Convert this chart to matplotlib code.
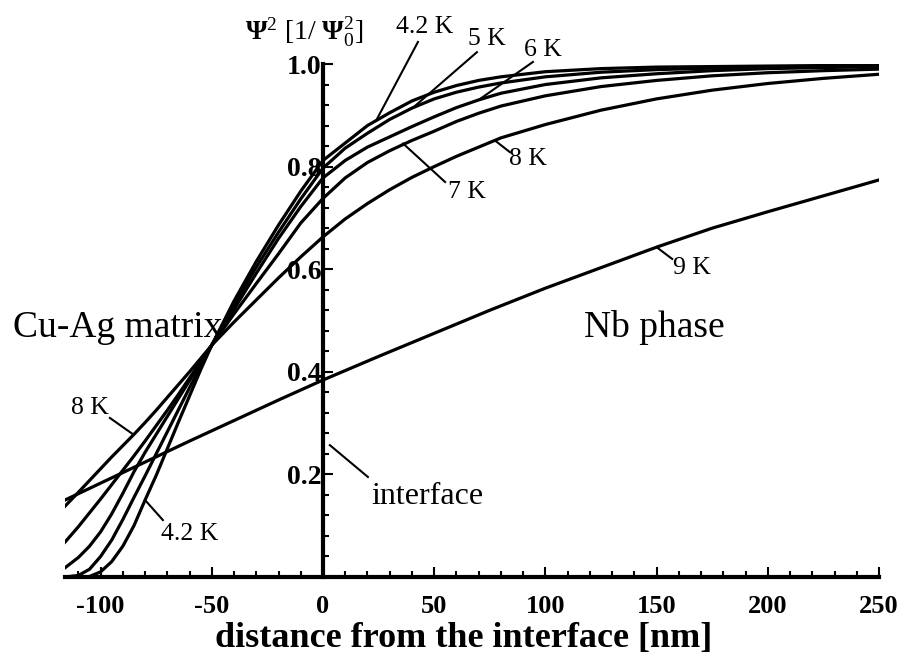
import matplotlib
matplotlib.use("Agg")
import matplotlib.pyplot as plt
from matplotlib.ticker import MultipleLocator, FixedLocator

plt.rcParams['font.family'] = ['Liberation Serif', 'DejaVu Serif']
plt.rcParams['mathtext.fontset'] = 'custom'
plt.rcParams['mathtext.rm'] = 'Liberation Serif'
plt.rcParams['mathtext.it'] = 'Liberation Serif:italic'
plt.rcParams['mathtext.bf'] = 'Liberation Serif:bold'

# distance from the interface [nm], shared by the 4.2-8 K curves
X = [-116, -110, -105, -100, -95, -90, -85, -80, -75, -70, -65, -60, -55, -50,
     -40, -30, -20, -10, 0, 10, 20, 30, 40, 50, 60, 70, 80, 100, 125, 150,
     175, 200, 225, 250]

# Psi^2 / Psi0^2
PSI_42 = [0.0, 0.0, 0.001, 0.010, 0.030, 0.060, 0.100, 0.150, 0.198, 0.250,
          0.302, 0.353, 0.404, 0.452, 0.538, 0.615, 0.686, 0.752, 0.812, 0.846,
          0.880, 0.905, 0.928, 0.945, 0.958, 0.968, 0.975, 0.985, 0.991, 0.994,
          0.995, 0.996, 0.997, 0.997]
PSI_5 = [0.0, 0.003, 0.015, 0.040, 0.072, 0.112, 0.155, 0.197, 0.240, 0.283,
         0.326, 0.369, 0.411, 0.452, 0.530, 0.604, 0.672, 0.737, 0.797, 0.836,
         0.865, 0.892, 0.914, 0.932, 0.945, 0.955, 0.963, 0.975, 0.984, 0.989,
         0.992, 0.994, 0.995, 0.996]
PSI_6 = [0.018, 0.038, 0.060, 0.088, 0.123, 0.163, 0.205, 0.243, 0.278, 0.313,
         0.348, 0.383, 0.417, 0.452, 0.522, 0.592, 0.660, 0.722, 0.778, 0.812,
         0.838, 0.858, 0.878, 0.897, 0.915, 0.930, 0.943, 0.960, 0.973, 0.981,
         0.987, 0.991, 0.993, 0.995]
PSI_7 = [0.068, 0.098, 0.125, 0.152, 0.180, 0.208, 0.236, 0.265, 0.295, 0.325,
         0.356, 0.388, 0.420, 0.452, 0.513, 0.572, 0.630, 0.690, 0.738, 0.778,
         0.808, 0.831, 0.851, 0.869, 0.888, 0.904, 0.918, 0.938, 0.956, 0.968,
         0.977, 0.983, 0.987, 0.990]
PSI_8 = [0.138, 0.165, 0.188, 0.211, 0.234, 0.256, 0.278, 0.301, 0.325, 0.350,
         0.375, 0.400, 0.426, 0.452, 0.497, 0.540, 0.583, 0.624, 0.663, 0.698,
         0.728, 0.755, 0.779, 0.800, 0.820, 0.838, 0.856, 0.882, 0.910, 0.932,
         0.949, 0.962, 0.972, 0.980]

X_9 = [-116, -100, -80, -60, -40, -20, 0, 25, 50, 75, 100, 125, 150, 175, 200, 225, 250]
PSI_9 = [0.150, 0.183, 0.224, 0.265, 0.305, 0.345, 0.384, 0.430, 0.475, 0.520,
         0.563, 0.603, 0.643, 0.680, 0.712, 0.743, 0.774]

XTICKS = [-100, -50, 0, 50, 100, 150, 200, 250]
YTICKS = [0.2, 0.4, 0.6, 0.8, 1.0]

# curve labels: text, text position, leader start, leader end (on curve)
LABELS = [
    ("4.2 K", (45.7, 1.072), (42.7, 1.043), (24.3, 0.893)),
    ("5 K", (73.5, 1.048), (69.2, 1.023), (40.5, 0.915)),
    ("6 K", (99.1, 1.028), (94.4, 1.004), (70.0, 0.930)),
    ("7 K", (64.5, 0.751), (54.9, 0.770), (36.0, 0.845)),
    ("8 K", (92.2, 0.815), (84.1, 0.828), (77.3, 0.851)),
    ("9 K", (166.0, 0.602), (157.0, 0.620), (150.0, 0.643)),
    ("8 K", (-104.8, 0.330), (-95.8, 0.310), (-86.0, 0.280)),
    ("4.2 K", (-60.0, 0.084), (-72.0, 0.111), (-80.0, 0.150)),
]

fig = plt.figure(figsize=(8.99, 6.54), dpi=100)
ax = fig.add_axes([65 / 899, 77 / 654, 814 / 899, 513 / 654])

for psi in (PSI_42, PSI_5, PSI_6, PSI_7, PSI_8):
    ax.plot(X, psi, color='black', lw=2.3, solid_joinstyle='round')
ax.plot(X_9, PSI_9, color='black', lw=2.3)

ax.set_xlim(-116, 250)
ax.set_ylim(0, 1.0)

ax.spines['top'].set_visible(False)
ax.spines['right'].set_visible(False)
ax.spines['left'].set_position(('data', 0))
ax.spines['left'].set_linewidth(3)
ax.spines['bottom'].set_linewidth(3)

ax.xaxis.set_major_locator(FixedLocator(XTICKS))
ax.xaxis.set_minor_locator(MultipleLocator(10))
ax.yaxis.set_major_locator(FixedLocator(YTICKS))
ax.yaxis.set_minor_locator(MultipleLocator(0.04))
ax.set_xticklabels([str(t) for t in XTICKS], fontsize=19, fontweight='bold')
ax.set_yticklabels([f"{t:.1f}" for t in YTICKS], fontsize=20, fontweight='bold')
ax.tick_params(which='both', direction='in', width=1.5)
ax.tick_params(which='major', length=7)
ax.tick_params(which='minor', length=4)
ax.tick_params(axis='x', pad=13)
ax.tick_params(axis='y', pad=1)

for text, tpos, l0, l1 in LABELS:
    ax.plot([l0[0], l1[0]], [l0[1], l1[1]], color='black', lw=1.5, clip_on=False)
    ax.text(tpos[0], tpos[1], text, fontsize=18.5, ha='center', va='center')

# interface marker
ax.plot([20.2, 3.1], [0.195, 0.257], color='black', lw=1.5)
ax.text(46.8, 0.156, "interface", fontsize=23, ha='center', va='center')

ax.text(-92.4, 0.468, "Cu-Ag matrix", fontsize=27, ha='center', va='baseline')
ax.text(148.8, 0.468, "Nb phase", fontsize=27, ha='center', va='baseline')

fig.text(304 / 899, (654 - 40) / 654,
         r'$\mathbf{Ψ}^{2}$ [1/ $\mathbf{Ψ}_{0}^{2}$]',
         fontsize=20, ha='center', va='baseline')
fig.text(464 / 899, (654 - 647) / 654, "distance from the interface [nm]",
         fontsize=26, fontweight='bold', ha='center', va='baseline')

fig.savefig("out.png", dpi=100)
